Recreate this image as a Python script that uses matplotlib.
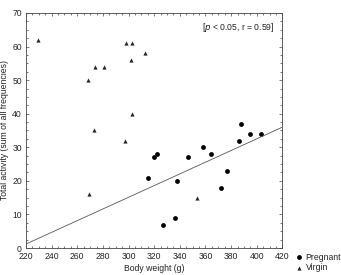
import matplotlib
matplotlib.use('Agg')
import matplotlib.pyplot as plt
from matplotlib.ticker import MultipleLocator

plt.rcParams['font.family'] = ['Liberation Sans', 'DejaVu Sans']

# Virgin (triangles)
virgin_w = [229, 268, 274, 281, 298, 303, 302, 313, 303, 273, 297, 269, 353]
virgin_a = [62, 50, 54, 54, 61, 61, 56, 58, 40, 35, 32, 16, 15]

# Pregnant (circles)
preg_w = [315, 320, 322, 327, 336, 338, 346, 358, 364, 372, 377, 386, 388, 395, 403]
preg_a = [21, 27, 28, 7, 9, 20, 27, 30, 28, 18, 23, 32, 37, 34, 34]

# regression line
fit_x = [220, 420]
fit_y = [1.2, 36.0]

fig = plt.figure(figsize=(3.41, 2.75), dpi=100)
ax = fig.add_axes([0.0762, 0.098, 0.752, 0.855])

ax.plot(fit_x, fit_y, color='#555555', lw=0.6)
ax.scatter(preg_w, preg_a, marker='o', s=12, color='black', linewidths=0, label='Pregnant')
ax.scatter(virgin_w, virgin_a, marker='^', s=9, color='#222222', linewidths=0, label='Virgin')

ax.set_xlim(220, 420)
ax.set_ylim(0, 70)
ax.xaxis.set_major_locator(MultipleLocator(20))
ax.yaxis.set_major_locator(MultipleLocator(10))
ax.xaxis.set_minor_locator(MultipleLocator(5))
ax.yaxis.set_minor_locator(MultipleLocator(2.5))
ax.tick_params(which='both', direction='in', top=True, right=True, labelsize=6.2,
               width=0.5, color='#444444', pad=3, labelcolor='#222222')
ax.tick_params(which='major', length=2.5)
ax.tick_params(which='minor', length=1.2)
for s in ax.spines.values():
    s.set_linewidth(0.6)
    s.set_color('#444444')

ax.set_xlabel('Body weight (g)', fontsize=6.2, labelpad=2, color='#222222')
ax.set_ylabel('Total activity (sum of all frequencies)', fontsize=6.2, labelpad=2,
              color='#222222')

ax.text(0.97, 0.965, '[$\\it{p}$ < 0.05, r = 0.59]', transform=ax.transAxes,
        ha='right', va='top', fontsize=6.2, color='#222222')

ax.legend(loc='lower left', bbox_to_anchor=(1.03, -0.12), frameon=False, fontsize=6.2,
          handletextpad=0.3, labelspacing=0.15, borderpad=0, handlelength=1.0,
          markerscale=1.0, labelcolor='#222222')

fig.savefig('out.png', dpi=100)
